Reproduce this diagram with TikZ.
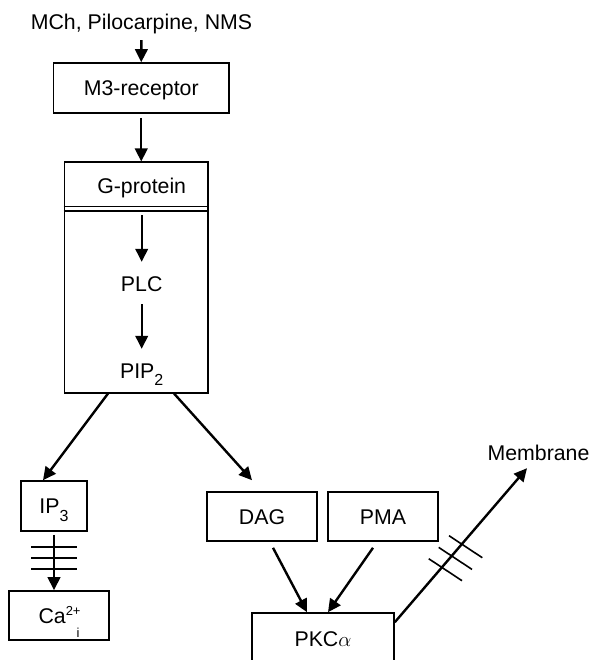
\documentclass[tikz,border=0pt]{standalone}
\usepackage{fontspec}
\setmainfont{Liberation Sans}
\usepackage{tikz}
\usetikzlibrary{arrows.meta}

\newcommand{\lowidx}[3][16]{\raisebox{-#2}{\fontsize{#1}{#1}\selectfont #3}}
\newcommand{\highidx}[1]{\raisebox{8pt}{\fontsize{13}{13}\selectfont #1}}

\tikzset{
	txt/.style={font=\fontsize{21.3}{25}\selectfont, inner sep=0pt, text height=15pt, text depth=0pt},
	box/.style={txt, draw, line width=1.6pt},
	arr/.style={-{Triangle[length=13pt, width=12.5pt]}, line width=2.4pt},
	tick/.style={line width=1.6pt},
}

\begin{document}
\begin{tikzpicture}[x=1pt, y=-1pt]
			\useasboundingbox (0,0) rectangle (590,660);
			\clip (0,0) rectangle (590,660);
			
			% Receptor
			\node[txt, anchor=base] (agonists) at (141.5,29.5) {MCh, Pilocarpine, NMS};
			\node[box, minimum width=175.5pt, minimum height=50pt] (m3) at (141.25,88) {M3-receptor};
			
			% G-protein box
			\node[box, minimum width=143.4pt, minimum height=230.4pt] (gbox) at (136,277.5) {};
			\draw[tick] (gbox.north west) ++(0,45) -- ++(143.4,0);
			\draw[tick] (gbox.north west) ++(0,49.7) coordinate (gsplit) -- ++(143.4,0);
			\node[txt, anchor=base] (gprot) at (141.7,193.3) {G-protein};
			\node[txt, anchor=base] (plc) at (141.7,291) {PLC};
			\node[txt, anchor=base] (pip) at (141.7,378.3) {PIP\lowidx{7pt}{2}};
			
			% Second messengers
			\node[box, minimum width=66pt, minimum height=50pt] (ip3) at (54,506) {IP\lowidx{7.5pt}{3}};
			\node[box, minimum width=100pt, minimum height=49pt] (ca) at (59,615.5) {Ca\highidx{2+}\hspace{-4pt}\lowidx[13]{14.5pt}{i}\hspace{10pt}};
			\node[box, minimum width=110pt, minimum height=49pt] (dag) at (262,516.5) {DAG\hspace{18pt}};
			\node[box, minimum width=110pt, minimum height=49pt] (pma) at (383,516.5) {PMA};
			\node[box, minimum width=142pt, minimum height=52pt] (pkc) at (323,639) {PKC$\alpha$\hspace{11pt}};
			\node[txt, anchor=base] (membrane) at (538.5,460) {Membrane};
			
			% Arrows
			\draw[arr, shorten <=10.5pt] (agonists.south) -- (m3.north);
			\draw[arr, shorten <=4pt] (m3.south) -- (m3.south |- gbox.north);
			\draw[arr, shorten <=4pt, shorten >=14pt] (gsplit -| plc.north) -- (plc.north);
			\draw[arr, shorten <=13pt, shorten >=14.3pt] (plc.south) -- (pip.north);
			\draw[arr] ([xshift=-28pt]gbox.south) -- ([xshift=-11pt]ip3.north);
			\draw[arr] ([xshift=38pt]gbox.south) -- ([xshift=-10pt, yshift=11pt]dag.north);
			\draw[arr, shorten <=3pt] (ip3.south) -- (ip3.south |- ca.north);
			\draw[arr] ([xshift=11pt, yshift=-6pt]dag.south) -- ([xshift=-16pt]pkc.north);
			\draw[arr] ([xshift=-10pt, yshift=-6pt]pma.south) -- ([xshift=5pt]pkc.north);
			\draw[arr] ([yshift=-10pt]pkc.north east) -- ([xshift=-11.5pt, yshift=-8pt]membrane.south);
			
			% Blocked steps
			\foreach \y in {546.7, 557.7, 568.7}
				\draw[tick] (31,\y) -- (77,\y);
			\foreach \x/\y in {462/544.3, 451.7/556, 441.7/567.3}
				\draw[tick] (\x,\y) ++(-13,-8.6) -- ++(33.3,22);
			
		\end{tikzpicture}
\end{document}
